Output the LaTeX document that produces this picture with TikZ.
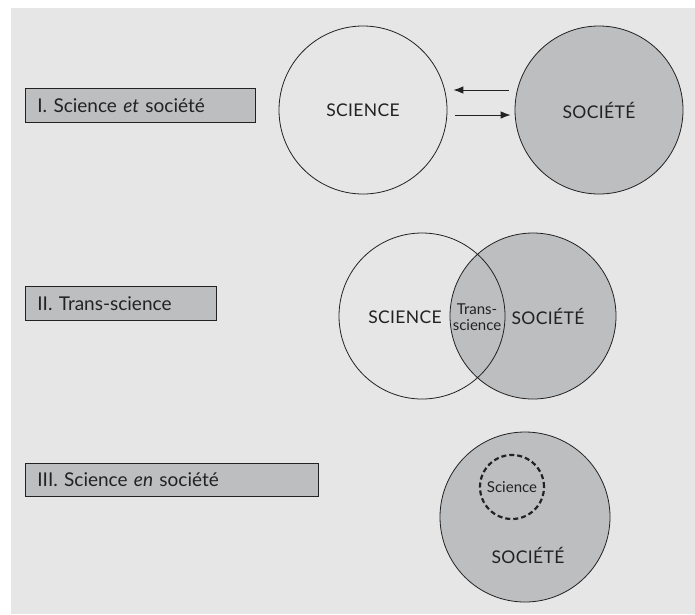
\documentclass[tikz,border=0pt]{standalone}
\usepackage{fontspec}
\setmainfont{Lato}
\newfontfamily\capsfont[LetterSpace=2]{Lato}
\usetikzlibrary{arrows.meta}
\definecolor{bgc}{HTML}{E6E6E6}
\definecolor{midgray}{HTML}{BDBEC0}
\definecolor{ink}{HTML}{222222}
\tikzset{
  bigcirc/.style={circle, draw=ink, line width=0.8pt, inner sep=0pt, minimum size=168pt, font=\capsfont\fontsize{17.5}{19}\selectfont, text=ink},
  labelbox/.style={rectangle, draw=ink, line width=0.8pt, fill=midgray, anchor=north west, inner xsep=12pt, inner ysep=0pt, align=left, font=\fontsize{19}{21}\selectfont, text=ink},
  circtext/.style={font=\capsfont\fontsize{17.5}{19}\selectfont, text=ink, inner sep=0pt},
  smalltext/.style={font=\fontsize{15}{16}\selectfont, text=ink, inner sep=0pt, align=center},
  arr/.style={draw=ink, line width=0.9pt, -{Latex[length=10pt,width=7.5pt]}},
  dashcirc/.style={circle, draw=ink, line width=2.2pt, dash pattern=on 5pt off 3pt, inner sep=0pt, minimum size=64pt}
}
\begin{document}
\begin{tikzpicture}[x=1pt,y=-1pt]
\useasboundingbox (0,0) rectangle (695,614);
\fill[bgc] (11,8) rectangle (695,614);

% Panel I
\node[labelbox, text width=206pt, minimum height=34pt] (lab1) at (25,88) {I. Science \textit{et} société};
\node[bigcirc] (sci1) at (363,110) {SCIENCE};
\node[bigcirc, fill=midgray] (soc1) at (599,110) {SOCIÉTÉ};
\draw[arr] ([xshift=-6pt,yshift=20pt]soc1.west) -- ([xshift=6pt,yshift=20pt]sci1.east);
\draw[arr] ([xshift=8pt,yshift=-5pt]sci1.east) -- ([xshift=-4pt,yshift=-5pt]soc1.west);

% Panel II
\node[labelbox, text width=167pt, minimum height=34pt] (lab2) at (25,286) {II. Trans-science};
\node[bigcirc, fill=midgray, minimum size=166pt] (soc2) at (533,316) {};
\node[bigcirc, minimum size=166pt] (sci2) at (422,316) {};
\node[circtext] (sci2t) at (405,317) {SCIENCE};
\node[circtext] (soc2t) at (548,316) {SOCIÉTÉ};
\node[smalltext] (trans) at (477,317) {Trans-\\science};

% Panel III
\node[labelbox, text width=269pt, minimum height=33pt] (lab3) at (25,463) {III. Science \textit{en} société};
\node[bigcirc, fill=midgray, minimum size=170pt] (soc3) at (525,517) {};
\node[dashcirc] (sci3) at (512,487) {};
\node[smalltext] (sci3t) at (512,487) {Science};
\node[circtext] (soc3t) at (528,555) {SOCIÉTÉ};
\end{tikzpicture}
\end{document}
